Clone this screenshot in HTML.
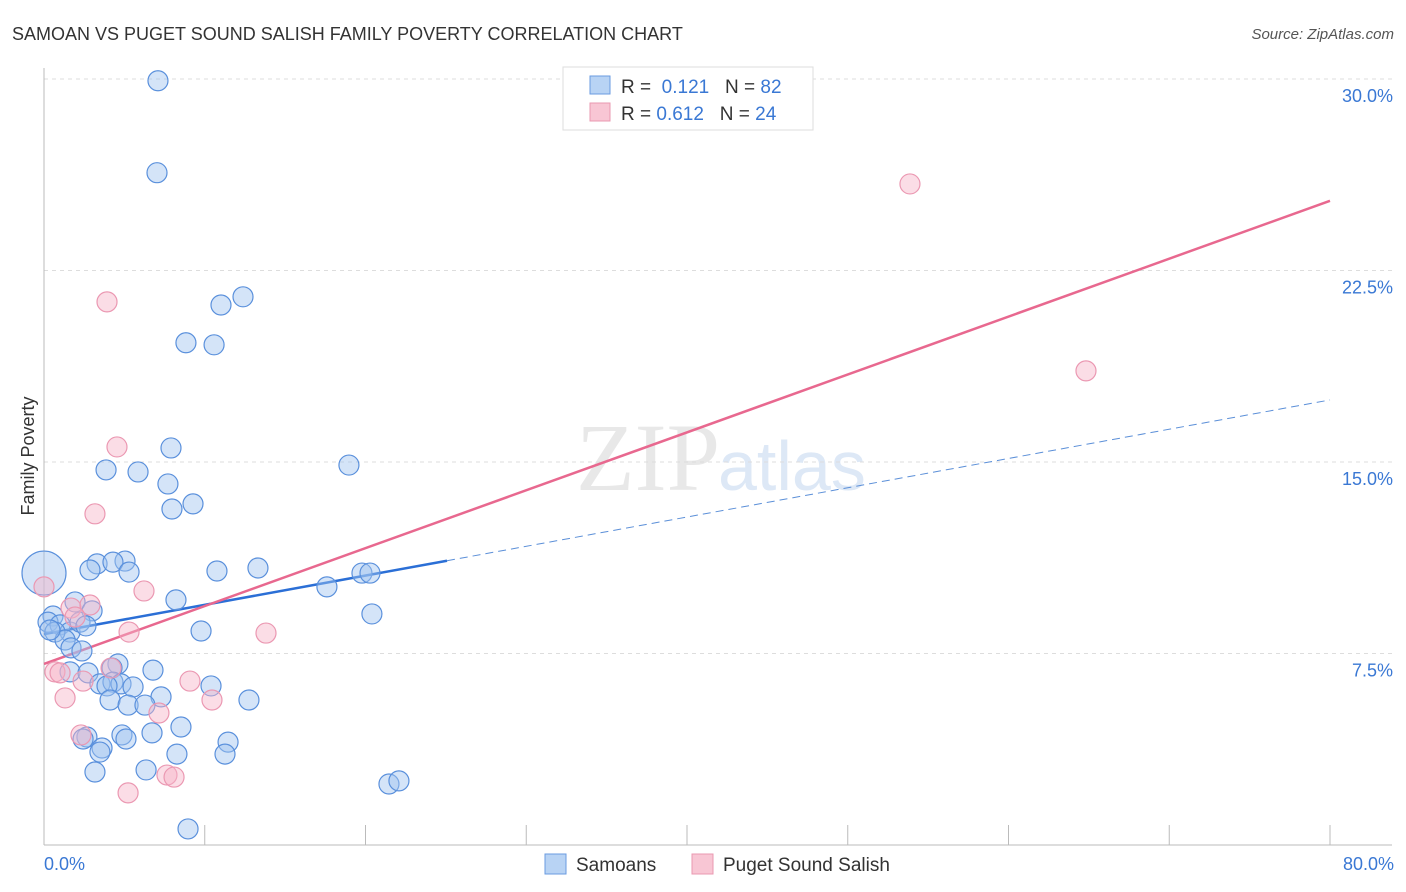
<!DOCTYPE html>
<html><head><meta charset="utf-8"><style>
body{margin:0;background:#fff;font-family:"Liberation Sans",sans-serif;}
svg{display:block}
</style></head><body>
<svg id="chart" width="1406" height="892">
<text x="12" y="40" font-size="18" fill="#333">SAMOAN VS PUGET SOUND SALISH FAMILY POVERTY CORRELATION CHART</text>
<text x="1394" y="39" font-size="15" fill="#555" font-style="italic" text-anchor="end">Source: ZipAtlas.com</text>
<text x="720" y="490" font-size="96" fill="#e8e8e8" font-family="Liberation Serif" text-anchor="end">ZIP</text>
<text x="718" y="490" font-size="70" fill="#dde8f6">atlas</text>
<g id="grid"></g>
<g id="axes"></g>
<g id="lines"></g>
<g id="pts"></g>
<text transform="translate(34,456) rotate(-90)" font-size="18" fill="#333" text-anchor="middle">Family Poverty</text>
<g>
<rect x="563" y="67" width="250" height="63" fill="#fff" stroke="#ddd"/>
<rect x="590" y="76" width="20" height="18" fill="#b8d3f4" stroke="#6a9be0"/>
<text x="621" y="93" font-size="19" fill="#333">R = <tspan fill="#3a78d4">&#160;0.121</tspan>&#160;&#160;&#160;N = <tspan fill="#3a78d4">82</tspan></text>
<rect x="590" y="103" width="20" height="18" fill="#f8c6d4" stroke="#ea98b0"/>
<text x="621" y="120" font-size="19" fill="#333">R = <tspan fill="#3a78d4">0.612</tspan>&#160;&#160;&#160;N = <tspan fill="#3a78d4">24</tspan></text>
</g>
<g>
<rect x="545" y="854" width="21" height="20" fill="#b8d3f4" stroke="#6a9be0"/>
<text x="576" y="871" font-size="19" fill="#333">Samoans</text>
<rect x="692" y="854" width="21" height="20" fill="#f8c6d4" stroke="#ea98b0"/>
<text x="723" y="871" font-size="19" fill="#333">Puget Sound Salish</text>
</g>
</svg>
<script>
const yTicks=[7.5,15,22.5,30];
const yTickLabels=["7.5%","15.0%","22.5%","30.0%"];
const xTicks=[0,10,20,30,40,50,60,70,80];
const xEndLabels=["0.0%","80.0%"];
const blueX=[7.09,7.03,12.38,11.01,8.83,10.58,7.90,3.86,5.85,7.71,7.96,9.27,18.97,3.30,5.04,4.29,2.86,5.29,10.76,13.31,19.78,20.28,17.60,8.21,20.40,9.77,1.93,2.99,0.56,0.25,1.00,1.62,0.68,2.24,2.61,1.31,1.68,2.36,0.37,6.78,4.60,4.23,1.62,2.74,3.48,4.29,4.79,5.54,3.92,7.28,10.39,4.11,5.23,6.28,12.75,8.52,6.72,4.85,5.10,2.67,2.43,3.61,3.48,11.45,11.26,8.27,3.17,6.35,21.46,22.08,8.96,0];
const blueY=[29.93,26.33,21.47,21.15,19.67,19.59,15.55,14.69,14.61,14.14,13.16,13.36,14.88,11.01,11.12,11.08,10.77,10.69,10.73,10.85,10.65,10.65,10.11,9.60,9.05,8.38,9.52,9.17,8.97,8.73,8.62,8.34,8.34,8.73,8.58,8.03,7.72,7.60,8.42,6.85,7.09,6.93,6.78,6.74,6.31,6.38,6.31,6.19,6.23,5.80,6.23,5.68,5.48,5.48,5.68,4.62,4.39,4.31,4.15,4.23,4.15,3.80,3.64,4.03,3.56,3.56,2.86,2.94,2.39,2.51,0.63,10.65];
const pinkX=[53.87,64.82,3.92,4.54,3.17,0,6.22,1.68,2.86,1.93,5.29,13.81,0.68,1.00,4.17,1.31,9.08,2.43,10.45,7.15,2.30,7.65,8.09,5.23];
const pinkY=[25.89,18.57,21.27,15.59,12.97,10.11,9.95,9.28,9.40,8.93,8.34,8.30,6.78,6.74,6.93,5.76,6.42,6.42,5.68,5.17,4.31,2.74,2.66,2.04];
const blueTrend=[8.26,17.43];
const blueSolidEnd=25.07;
const pinkTrend=[7.09,25.23];
const NS="http://www.w3.org/2000/svg";
const X0=44,X1=1330,Y0=845,PXPER=191.5/7.5;
function sx(v){return X0+(v/80)*(X1-X0);}
function sy(v){return Y0-v*PXPER;}
function mk(tag,attrs,parent){const e=document.createElementNS(NS,tag);for(const k in attrs)e.setAttribute(k,attrs[k]);parent.appendChild(e);return e;}
const grid=document.getElementById('grid'),axes=document.getElementById('axes'),lines=document.getElementById('lines'),pts=document.getElementById('pts');
yTicks.forEach((t,i)=>{
 const l=mk('line',{x1:X0,x2:1392,y1:sy(t),y2:sy(t),stroke:'#ddd','stroke-dasharray':'4,4'},grid);
 
 
 const tx=mk('text',{x:1393,y:sy(t)+23,'font-size':18,fill:'#3a78d4','text-anchor':'end'},grid);
 tx.textContent=yTickLabels[i];
 
 
});
const ya=mk('line',{x1:X0,x2:X0,y1:68,y2:Y0,stroke:'#bbb'},axes);


const xa=mk('line',{x1:X0,x2:1392,y1:Y0,y2:Y0,stroke:'#bbb'},axes);


xTicks.forEach(t=>{
 const l=mk('line',{x1:sx(t),x2:sx(t),y1:Y0,y2:Y0-20,stroke:'#bbb'},axes);
 
 
});
[[0,'start',44],[80,'end',1394]].forEach((d,i)=>{
 const tx=mk('text',{x:d[2],y:870,'font-size':18,fill:'#3a78d4','text-anchor':d[1]},axes);
 tx.textContent=xEndLabels[i];
 
 
});
function ty(tr,x){return tr[0]+(tr[1]-tr[0])*x/80;}
const bs=mk('line',{x1:sx(0),y1:sy(ty(blueTrend,0)),x2:sx(blueSolidEnd),y2:sy(ty(blueTrend,blueSolidEnd)),stroke:'#2b6fd6','stroke-width':2.5},lines);


const bd=mk('line',{x1:sx(blueSolidEnd),y1:sy(ty(blueTrend,blueSolidEnd)),x2:sx(80),y2:sy(ty(blueTrend,80)),stroke:'#5b8fd8','stroke-width':1,'stroke-dasharray':'8,5'},lines);


blueX.forEach((x,i)=>{
 const big=(x===0&&blueY[i]>10.5&&blueY[i]<10.8);
 const c=mk('circle',{cx:sx(x),cy:sy(blueY[i]),r:big?22:10,fill:'rgba(160,195,240,0.45)',stroke:'#5a90dc','stroke-width':1.2},pts);
 
 
});
pinkX.forEach((x,i)=>{
 const c=mk('circle',{cx:sx(x),cy:sy(pinkY[i]),r:10,fill:'rgba(246,180,200,0.45)',stroke:'#eb98b2','stroke-width':1.2},pts);
 
 
});
const ps=mk('line',{x1:sx(0),y1:sy(pinkTrend[0]),x2:sx(80),y2:sy(pinkTrend[1]),stroke:'#e8688f','stroke-width':2.5},lines);


</script>
</body></html>
